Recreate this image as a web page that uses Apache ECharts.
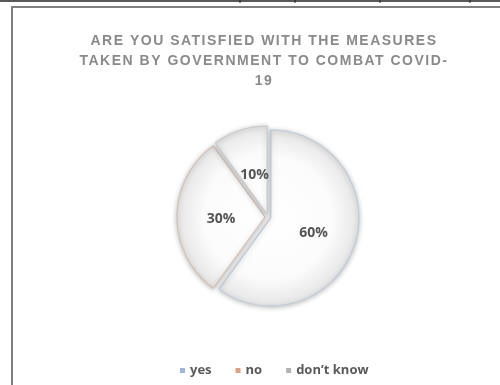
<!DOCTYPE html>
<html>
<head>
<meta charset="utf-8">
<style>
html,body{margin:0;padding:0;background:#fff;}
#chart{width:500px;height:385px;}
</style>
<script src="https://cdn.jsdelivr.net/npm/echarts@6/dist/echarts.min.js"></script>
</head>
<body>
<div id="chart"></div>
<script>
// Data
var titleText = 'ARE YOU SATISFIED WITH THE MEASURES\nTAKEN BY GOVERNMENT TO COMBAT COVID-\n19';
var categories = ['yes', 'no', 'don\u2019t know'];
var values = [60, 30, 10];
var legendColors = ['#9fb4d6', '#dca283', '#b3b3b3'];
var edgeColors = ['#c4ccd8', '#d3c2b7', '#cccccc'];

// letter spacing for the title font only
(function(){
  var proto = CanvasRenderingContext2D.prototype;
  var orig = proto.fillText;
  proto.fillText = function(t, x, y, w){
    if ('letterSpacing' in this) {
      this.letterSpacing = (this.font && this.font.indexOf('Liberation Sans') >= 0) ? '1.5px' : '0px';
    }
    return orig.apply(this, arguments);
  };
})();

var chart = echarts.init(document.getElementById('chart'), null, {renderer: 'canvas'});
var cx = 268, cy = 217, R = 88;
var fill = {type: 'radial', x: cx, y: cy, r: R, global: true,
  colorStops: [{offset: 0, color: '#ffffff'}, {offset: 0.7, color: '#fbfbfb'}, {offset: 1, color: '#e6e6e6'}]};
var labelShift = [[-2, 1], [3, 2], [2, 6]];

var data = values.map(function(v, i){
  return {value: v, name: categories[i], selected: true,
    itemStyle: {color: fill, borderColor: edgeColors[i], borderWidth: 1.2,
      shadowBlur: 5, shadowColor: 'rgba(0,0,0,0.25)', shadowOffsetX: 0, shadowOffsetY: 1}};
});

chart.setOption({
  animation: false,
  backgroundColor: '#ffffff',
  title: {
    text: titleText,
    left: 264, top: 31, padding: 0, textAlign: 'center',
    textStyle: {fontFamily: 'Liberation Sans', fontSize: 14, fontWeight: 'bold', color: '#8a8a8a', lineHeight: 20}
  },
  legend: {
    bottom: 3, left: 175,
    itemWidth: 5, itemHeight: 5, itemGap: 24,
    icon: 'rect',
    selectedMode: false,
    textStyle: {fontFamily: 'Open Sans', fontSize: 13, fontWeight: 'bold', color: '#595959'},
    data: categories.map(function(c, i){ return {name: c, itemStyle: {color: legendColors[i], borderWidth: 0, shadowBlur: 0}}; })
  },
  graphic: [
    {type: 'line', z: -1, shape: {x1: 0, y1: 1, x2: 500, y2: 1}, style: {stroke: '#222', lineWidth: 1.5}},
    {type: 'line', z: -1, shape: {x1: 240, y1: 0, x2: 240, y2: 3}, style: {stroke: '#222', lineWidth: 1}},
    {type: 'line', z: -1, shape: {x1: 295, y1: 0, x2: 295, y2: 3}, style: {stroke: '#222', lineWidth: 1}},
    {type: 'line', z: -1, shape: {x1: 380, y1: 0, x2: 380, y2: 3}, style: {stroke: '#222', lineWidth: 1}},
    {type: 'line', z: -1, shape: {x1: 470, y1: 0, x2: 470, y2: 3}, style: {stroke: '#222', lineWidth: 1}},
    {type: 'rect', z: -1, shape: {x: 12, y: 7, width: 520, height: 400}, style: {fill: '#fff', stroke: '#7f7f7f', lineWidth: 2}}
  ],
  series: [{
    type: 'pie',
    center: [cx, cy],
    radius: R,
    startAngle: 90,
    clockwise: true,
    selectedMode: 'multiple',
    selectedOffset: 3,
    avoidLabelOverlap: false,
    emphasis: {disabled: true},
    select: {itemStyle: {}},
    label: {
      show: true, position: 'inside',
      formatter: '{d}%',
      fontFamily: 'Open Sans', fontSize: 14, fontWeight: 'bold', color: '#555555'
    },
    labelLayout: function(p){ var s = labelShift[p.dataIndex]; return {dx: s[0], dy: s[1]}; },
    labelLine: {show: false},
    data: data
  }]
});
</script>
</body>
</html>
